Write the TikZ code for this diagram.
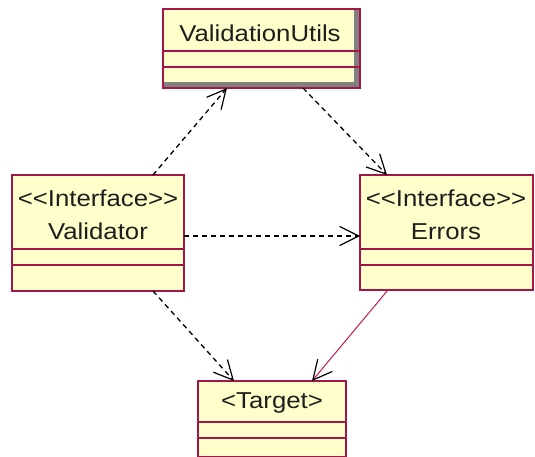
\documentclass[tikz,border=0pt]{standalone}
\usepackage{fontspec}
\setmainfont{Liberation Sans}[FakeStretch=1.12]
\usetikzlibrary{arrows.meta}
\definecolor{clsfill}{RGB}{255,255,204}
\definecolor{clsline}{RGB}{165,22,72}
\definecolor{realline}{RGB}{195,25,85}
\definecolor{shadowgray}{RGB}{128,128,128}
\definecolor{txt}{RGB}{30,30,30}
% stereotype text; the kerns keep << and >> from turning into guillemets
\newcommand{\ifacestereo}{<\kern0pt<Interface>\kern0pt>}
\tikzset{
  cls/.style={draw=clsline, fill=clsfill, line width=1.8pt, rectangle,
    inner sep=0pt, outer sep=0pt, anchor=north west},
  divider/.style={draw=clsline, line width=1.6pt},
  lbl/.style={anchor=base, inner sep=0pt, text=txt,
    font=\fontsize{23}{27}\selectfont},
  opentip/.style={-{Straight Barb[length=19pt,width=19pt,line width=1.2pt,color=black]}},
  dep/.style={opentip, black, line width=1.3pt, dash pattern=on 5pt off 4pt},
  real/.style={opentip, realline, line width=1pt}
}
\begin{document}
\begin{tikzpicture}[x=1pt,y=-1pt]
\useasboundingbox (0,0) rectangle (535,457);

% ValidationUtils with drop shadow inside its frame
\node[cls, fill=shadowgray, minimum width=197pt, minimum height=79pt] (vu) at (163,9) {};
\fill[clsfill] (164,10) rectangle (354,82);
\draw[clsline, line width=1.8pt] (vu.north west) rectangle (vu.south east);
\draw[divider] (163,51) -- (360,51);
\draw[divider] (163,67) -- (360,67);
\node[lbl] (vut) at (260,42) {ValidationUtils};

% Validator interface
\node[cls, minimum width=172pt, minimum height=116pt] (val) at (12,175) {};
\draw[divider] (12,249) -- (184,249);
\draw[divider] (12,265) -- (184,265);
\node[lbl] (vals) at (98,207) {\ifacestereo};
\node[lbl] (valn) at (98,239) {Validator};

% Errors interface
\node[cls, minimum width=173pt, minimum height=115pt] (err) at (360,175) {};
\draw[divider] (360,249) -- (533,249);
\draw[divider] (360,265) -- (533,265);
\node[lbl] (errs) at (446,207) {\ifacestereo};
\node[lbl] (errn) at (446,239) {Errors};

% Target
\node[cls, minimum width=148pt, minimum height=76pt] (tgt) at (198,381) {};
\draw[divider] (198,422) -- (346,422);
\draw[divider] (198,438) -- (346,438);
\node[lbl] (tgtn) at (272,408) {<Target>};

% dependencies
\draw[dep] ([xshift=141pt]val.north west) -- ([xshift=64pt]vu.south west);
\draw[dep] ([xshift=140pt]vu.south west) -- ([xshift=27pt]err.north west);
\draw[dep] ([yshift=-61pt]val.north east) -- ([yshift=-61pt]err.north west);
\draw[dep] ([xshift=141pt]val.south west) -- ([xshift=36pt]tgt.north west);
% realization
\draw[real] ([xshift=28pt]err.south west) -- ([xshift=114pt]tgt.north west);
\end{tikzpicture}
\end{document}
